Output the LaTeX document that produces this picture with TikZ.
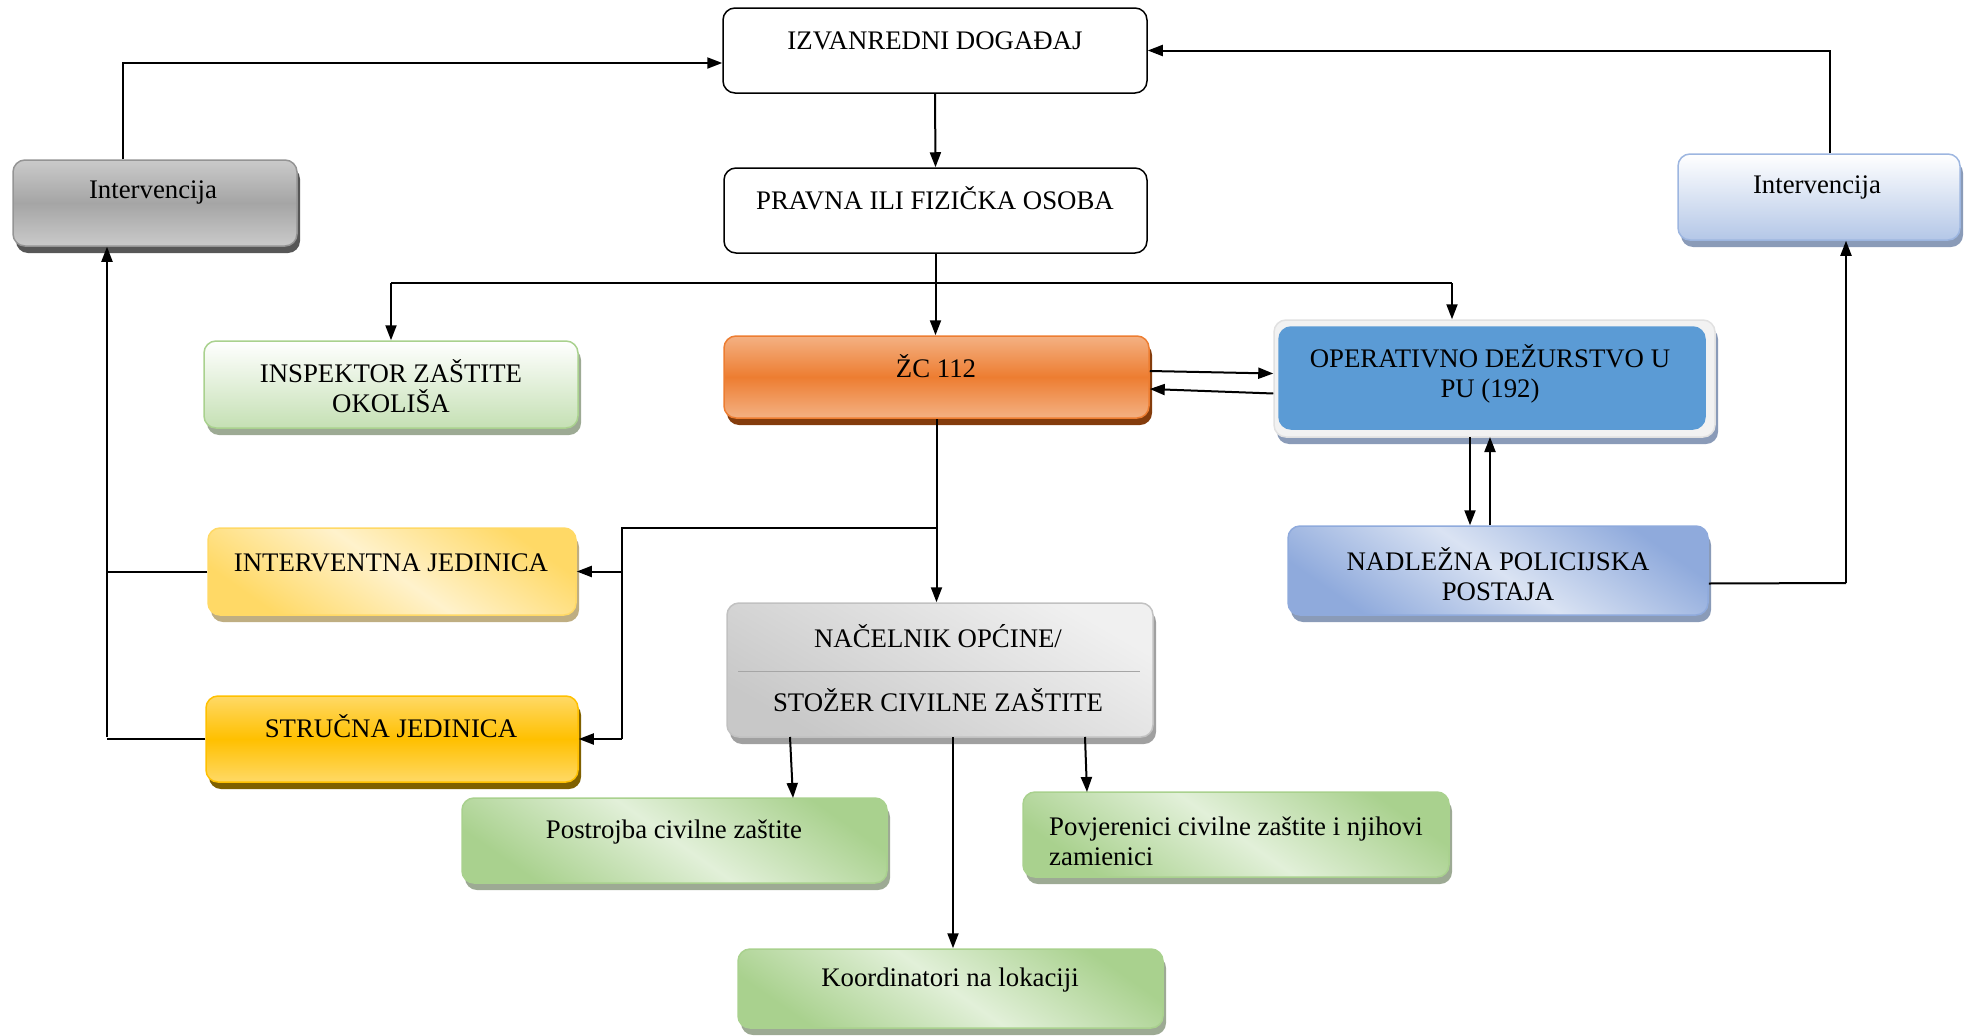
\documentclass[tikz,border=0pt]{standalone}
\usepackage{fontspec}
\setmainfont{Liberation Serif}
\usetikzlibrary{arrows.meta,shadows,calc}
\definecolor{grayTop}{HTML}{CACACA}
\definecolor{grayMid}{HTML}{A5A5A5}
\definecolor{grayShd}{HTML}{575757}
\definecolor{blueLt}{HTML}{B4C7E7}
\definecolor{blueBd}{HTML}{9DB6E0}
\definecolor{blueShd}{HTML}{8A9BB8}
\definecolor{greenLt}{HTML}{C5E0B4}
\definecolor{greenBd}{HTML}{A9D18E}
\definecolor{greenPale}{HTML}{E2F0D9}
\definecolor{greenShd}{HTML}{9DAA94}
\definecolor{yelDk}{HTML}{FFD966}
\definecolor{yelLt}{HTML}{FFF2CC}
\definecolor{yelShd}{HTML}{BFAE82}
\definecolor{gold}{HTML}{FFC000}
\definecolor{goldShd}{HTML}{7F6000}
\definecolor{orLt}{HTML}{F4B183}
\definecolor{orMid}{HTML}{ED7D31}
\definecolor{orShd}{HTML}{843C0C}
\definecolor{opBlue}{HTML}{5B9BD5}
\definecolor{opFrame}{HTML}{F2F2F2}
\definecolor{nadDk}{HTML}{8FAADC}
\definecolor{nadLt}{HTML}{DAE3F3}
\definecolor{nacDk}{HTML}{C8C8C8}
\definecolor{nacLt}{HTML}{F0F0F0}
\definecolor{nacShd}{HTML}{A0A0A0}
\tikzset{
  box/.style={rounded corners=12pt, line width=1.5pt, inner sep=0pt},
  shd/.style={general shadow={fill=#1, shadow xshift=3pt, shadow yshift=-7pt}},
  lbl/.style={font=\fontsize{26.8}{30}\selectfont, inner sep=0pt, align=center},
  one/.style={text height=18pt, text depth=0pt},
  conn/.style={line width=2pt, draw=black},
  arr/.style={conn, -{Triangle[length=15pt,width=11pt]}},
  plainbox/.style={box, draw=black, fill=white},
  greendiag/.style={box, draw=greenBd, top color=greenBd, bottom color=greenBd, middle color=greenPale, shading angle=-35, shd=greenShd},
}
\begin{document}
\begin{tikzpicture}[x=1pt,y=-1pt]
\useasboundingbox (0,0) rectangle (1971,1036);

% boxes
\node[plainbox, minimum width=424pt, minimum height=85pt] (izv) at (935,50.5) {};
\node[lbl, one] (izvT) at (935,40) {IZVANREDNI DOGAĐAJ};

\node[plainbox, minimum width=423pt, minimum height=85pt] (prav) at (935.5,210.5) {};
\node[lbl, one] (pravT) at (935,200) {PRAVNA ILI FIZIČKA OSOBA};

\node[box, draw=grayMid!90!black, top color=grayTop, bottom color=grayTop, middle color=grayMid, shd=grayShd, minimum width=284pt, minimum height=86pt] (intL) at (155,203) {};
\node[lbl] (intLT) at (153,192) {Intervencija};

\node[box, draw=blueBd, top color=white, bottom color=blueLt, shd=blueShd, minimum width=282pt, minimum height=86pt] (intR) at (1819,197) {};
\node[lbl] (intRT) at (1817,187) {Intervencija};

\node[box, draw=greenBd, top color=white, bottom color=greenLt, shd=greenShd, minimum width=374pt, minimum height=87pt] (insp) at (391,384.5) {};
\node[lbl] (inspT) at (391,386) {INSPEKTOR ZAŠTITE\\OKOLIŠA};

\node[box, draw=orMid, top color=orLt, bottom color=orLt, middle color=orMid, shd=orShd, minimum width=425pt, minimum height=82pt] (zc) at (936.5,377) {};
\node[lbl, one] (zcT) at (936,368) {ŽC 112};

\node[box, draw=opFrame!85!gray, fill=opFrame, shd=blueShd, minimum width=441pt, minimum height=117pt] (oper) at (1494.5,378.5) {};
\node[box, draw=opBlue, fill=opBlue, minimum width=426pt, minimum height=102pt] (operIn) at (1492,378) {};
\node[lbl] (operT) at (1490,374) {OPERATIVNO DEŽURSTVO U\\PU (192)};

\node[box, draw=nadDk, top color=nadDk, bottom color=nadDk, middle color=nadLt, shading angle=-35, shd=blueShd, minimum width=420pt, minimum height=89pt] (nad) at (1498,570.5) {};
\node[lbl] (nadT) at (1498,574) {NADLEŽNA POLICIJSKA\\POSTAJA};

\node[box, draw=yelDk, top color=yelDk, bottom color=yelDk, middle color=yelLt, shading angle=-35, shd=yelShd, minimum width=368pt, minimum height=87pt] (intv) at (392,571.5) {};
\node[lbl, one] (intvT) at (391,562) {INTERVENTNA JEDINICA};

\node[box, draw=gold, top color=yelDk, bottom color=yelDk, middle color=gold, shd=goldShd, minimum width=372pt, minimum height=86pt] (str) at (392,739) {};
\node[lbl, one] (strT) at (391,728) {STRUČNA JEDINICA};

\node[box, draw=nacDk!90!gray, top color=nacLt, bottom color=nacDk, shading angle=-30, shd=nacShd, minimum width=426pt, minimum height=134pt] (nac) at (940,670) {};
\node[lbl, one] (nacT1) at (938,638) {NAČELNIK OPĆINE/};
\coordinate (sepL) at (738,671);
\coordinate (sepR) at (1140,671);
\draw[line width=1pt, draw=gray!70] (sepL) -- (sepR);
\node[lbl, one] (nacT2) at (938,702) {STOŽER CIVILNE ZAŠTITE};

\node[greendiag, minimum width=425pt, minimum height=85pt] (pos) at (674.5,840.5) {};
\node[lbl] (posT) at (674,832) {Postrojba civilne zaštite};

\node[greendiag, minimum width=426pt, minimum height=85pt] (pov) at (1236,834.5) {};
\node[lbl, align=left, anchor=west] (povT) at (1049,841) {Povjerenici civilne zaštite i njihovi\\zamienici};

\node[greendiag, minimum width=425pt, minimum height=79pt] (koo) at (950.5,988.5) {};
\node[lbl] (kooT) at (950,980) {Koordinatori na lokaciji};

% connectors
\draw[arr] (izv.south) -- (prav.north);

\coordinate (hL) at (391,283);
\coordinate (hR) at (1452,283);
\draw[conn] (hL) -- (hR);
\draw[arr] (hL) -- (insp.north);
\draw[arr] (hR) -- (hR |- oper.north);
\draw[arr] (prav.south) -- (prav.south |- zc.north);

\draw[arr] ($(zc.east)+(0,-6)$) -- ($(oper.west)+(0,-5)$);
\draw[arr] ($(oper.west)+(0,15)$) -- ($(zc.east)+(0,12)$);

\coordinate (od) at (1470,437);
\coordinate (ou) at (1490,437);
\draw[arr] (od) -- (od |- nad.north);
\draw[arr] (ou |- nad.north) -- (ou);

\coordinate (nadR) at (1846,583);
\draw[conn] ($(nad.east)+(0,13)$) -- (nadR);
\draw[arr] (nadR) -- (nadR |- intR.south);

\coordinate (topR) at (1830,50.5);
\draw[arr] (topR |- intR.north) -- (topR) -- (izv.east);

\coordinate (topL) at (123,63);
\draw[arr] (topL |- intL.north) -- (topL) -- (topL -| izv.west);

\coordinate (lvB) at (107,737);
\draw[arr] (lvB) -- (lvB |- intL.south);
\draw[conn] (intv.west) -- (intv.west -| lvB);
\draw[conn] (str.west) -- (str.west -| lvB);

\draw[arr] (zc.south) -- (zc.south |- nac.north);
\coordinate (brT) at (622,528);
\coordinate (brB) at (622,739);
\draw[conn] (brT -| zc.south) -- (brT) -- (brB);
\draw[arr] (brT |- intv.east) -- (intv.east);
\draw[arr] (brB) -- (str.east);

\coordinate (n1) at (790,737);
\coordinate (n2) at (953,737);
\coordinate (n3) at (1085,737);
\draw[arr] (n1) -- (793,798);
\draw[arr] (n2) -- (n2 |- koo.north);
\draw[arr] (n3) -- (1087,792);
\end{tikzpicture}
\end{document}
